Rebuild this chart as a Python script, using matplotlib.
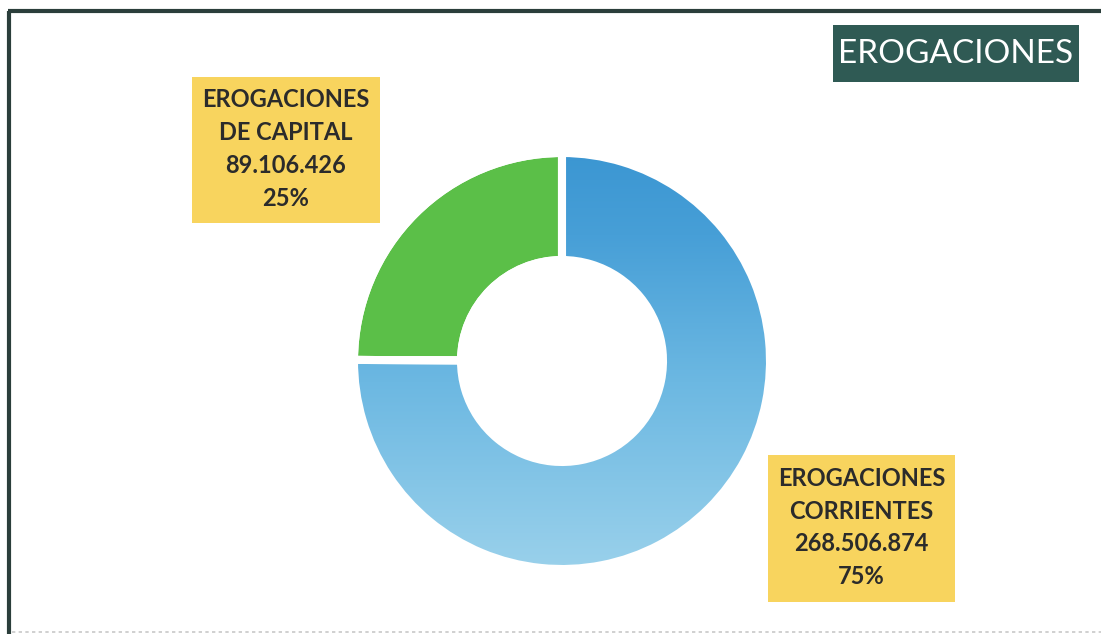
import numpy as np
import matplotlib
matplotlib.use("Agg")
import matplotlib.pyplot as plt
from matplotlib.patches import Rectangle, Wedge
from matplotlib.colors import LinearSegmentedColormap

# ---- data ----
categories = ["EROGACIONES\nDE CAPITAL", "EROGACIONES\nCORRIENTES"]
values = [89106426, 268506874]
value_labels = ["89.106.426", "268.506.874"]
title = "EROGACIONES"

W, H = 1101, 634
fig = plt.figure(figsize=(W / 100, H / 100), dpi=100)
fig.patch.set_facecolor("white")
ax = fig.add_axes([0, 0, 1, 1])

cx, cy = 562, H - 361
gap_lw = 5.8  # points (~8 px)
wedges, _ = ax.pie(values, startangle=90, counterclock=True,
                   center=(cx, cy), radius=208,
                   colors=["#5BBF48", "#5AAEDD"],
                   wedgeprops=dict(width=107, edgecolor="white", linewidth=gap_lw))

# gradient fill for the blue wedge
blue = wedges[1]
cmap = LinearSegmentedColormap.from_list(
    "bl", [(0, "#9AD1EB"), (0.45, "#6CB8E2"), (0.8, "#479FD7"), (1, "#3B96D2")])
grad = np.linspace(0, 1, 256).reshape(-1, 1)
im = ax.imshow(grad, cmap=cmap, origin="lower", aspect="auto",
               extent=(cx - 210, cx + 210, cy - 210, cy + 210), zorder=2,
               interpolation="bilinear")
im.set_clip_path(blue)
for w in wedges:
    ax.add_patch(Wedge(w.center, w.r, w.theta1, w.theta2, width=w.width,
                       facecolor="none", edgecolor="white", linewidth=gap_lw, zorder=3))

# label boxes
fs = 17
txtc = "#2B2B2B"
boxes = [(192, 77, 380, 223), (768, 455, 955, 602)]
pcts = [v / sum(values) for v in values]
for (x0, y0, x1, y1), cat, vl, p in zip(boxes, categories, value_labels, pcts):
    ax.add_patch(Rectangle((x0, H - y1), x1 - x0, y1 - y0, facecolor="#F8D45E",
                           edgecolor="none", zorder=4))
    txt = f"{cat}\n{vl}\n{p:.0%}"
    ax.text((x0 + x1) / 2, H - (y0 + y1) / 2 + 1, txt, ha="center", va="center",
            multialignment="center", fontsize=fs, fontweight="bold",
            family="Lato", color=txtc, linespacing=1.52, zorder=5)

# title box
ax.add_patch(Rectangle((833, H - 82), 1079 - 833, 57, facecolor="#2F5A54",
                       edgecolor="none", zorder=4))
ax.text((833 + 1079) / 2, H - 54, title, ha="center", va="center",
        fontsize=24, family="Lato", color="white", zorder=5)

# frame
ax.plot([9, 9], [0, H - 11], color="#2B3E3B", lw=3, solid_capstyle="butt", zorder=6)
ax.plot([8, W], [H - 11, H - 11], color="#2B3E3B", lw=3, solid_capstyle="butt", zorder=6)
ax.plot([12, W], [H - 632, H - 632], color="#C8C8C8", lw=1.2, ls=(0, (2, 2)), zorder=6)

ax.set_xlim(0, W)
ax.set_ylim(0, H)
ax.set_aspect("equal")
ax.axis("off")
fig.savefig("out.png", dpi=100, facecolor="white")
